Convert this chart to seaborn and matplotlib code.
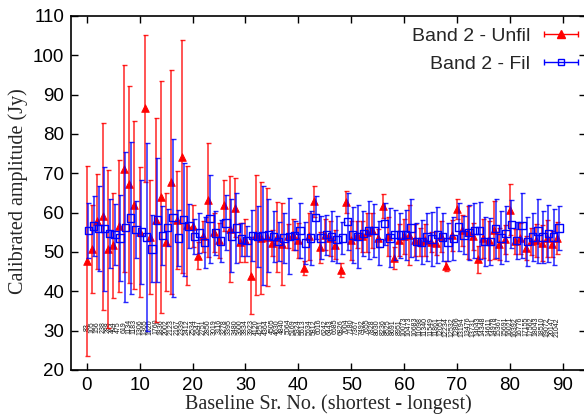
import numpy as np
import pandas as pd
import matplotlib
matplotlib.use("Agg")
import matplotlib.pyplot as plt
import seaborn as sns
from matplotlib.container import ErrorbarContainer
from matplotlib.legend_handler import HandlerErrorbar

# ---------------- data ----------------
baseline_index = list(range(90))

unfil_amp = [47.7, 50.8, 57.8, 59.1, 50.8, 51.7, 56.6, 71.2, 67.2, 61.9,
             55.1, 86.5, 53.8, 58.1, 64.0, 52.5, 67.8, 58.1, 74.2, 56.8,
             56.6, 49.1, 54.0, 63.3, 55.0, 53.0, 61.9, 55.9, 61.3, 52.5,
             53.0, 44.0, 54.3, 53.5, 53.8, 52.3, 53.8, 52.1, 54.0, 54.4,
             53.0, 45.9, 54.0, 62.9, 51.2, 54.4, 53.5, 51.9, 45.5, 62.8,
             53.0, 54.4, 54.0, 55.0, 55.5, 53.6, 61.7, 54.0, 48.5, 53.0,
             54.0, 54.4, 53.0, 52.5, 53.0, 52.5, 52.3, 54.0, 46.4, 54.2,
             61.0, 55.5, 55.0, 54.0, 48.1, 53.5, 53.0, 55.5, 52.0, 53.2,
             60.8, 52.7, 53.5, 51.0, 52.7, 53.0, 52.3, 53.5, 52.0, 53.6]
unfil_err = [24.2, 11.2, 12.0, 23.8, 20.0, 13.3, 16.7, 26.3, 25.0, 21.4,
             16.5, 18.7, 14.6, 25.9, 29.5, 12.5, 28.5, 12.5, 29.6, 15.1,
             5.3, 3.4, 4.0, 14.5, 5.0, 4.5, 6.5, 13.4, 7.4, 5.0,
             5.5, 9.8, 15.2, 14.3, 12.5, 3.4, 9.0, 10.4, 3.0, 4.0,
             4.5, 1.7, 6.0, 4.0, 4.0, 4.0, 4.5, 3.8, 1.8, 2.8,
             5.0, 3.5, 4.0, 5.0, 4.5, 2.3, 3.0, 5.0, 2.8, 4.0,
             4.5, 7.6, 4.0, 3.5, 4.0, 2.5, 3.0, 4.0, 1.3, 4.0,
             2.6, 4.0, 6.7, 3.5, 3.5, 5.0, 5.0, 7.4, 4.0, 3.6,
             6.4, 3.2, 4.0, 3.0, 3.4, 4.2, 4.5, 4.7, 3.3, 4.0]

fil_amp = [55.5, 56.6, 55.9, 55.9, 54.7, 54.5, 53.6, 56.3, 58.6, 55.7,
           55.1, 53.8, 50.8, 58.1, 54.2, 56.2, 58.7, 53.6, 58.2, 56.6,
           54.0, 54.8, 52.4, 58.5, 54.8, 52.8, 57.4, 54.1, 56.1, 53.3,
           52.9, 54.2, 54.0, 54.2, 54.3, 54.0, 52.7, 53.6, 54.0, 54.2,
           55.4, 52.3, 53.6, 58.7, 53.6, 54.4, 54.0, 53.2, 53.6, 57.8,
           54.3, 54.0, 54.7, 55.5, 55.5, 52.3, 57.2, 53.6, 54.4, 54.3,
           54.4, 56.1, 52.7, 52.5, 53.8, 53.3, 54.4, 53.8, 52.5, 53.4,
           56.4, 54.3, 55.0, 55.5, 55.5, 52.7, 52.7, 56.0, 53.6, 54.7,
           57.0, 52.9, 56.7, 52.6, 53.8, 55.3, 53.8, 54.7, 53.8, 56.1]
fil_err = [7.0, 7.7, 10.8, 15.7, 8.7, 7.8, 11.0, 19.0, 19.3, 7.3,
           13.2, 24.0, 8.5, 15.7, 7.4, 4.8, 20.1, 7.1, 14.4, 5.7,
           4.5, 5.0, 6.4, 11.2, 5.6, 5.3, 7.0, 9.3, 8.9, 4.2,
           3.8, 6.5, 7.8, 12.5, 9.3, 6.5, 5.0, 6.4, 9.7, 3.6,
           7.0, 5.4, 6.8, 5.5, 5.5, 5.1, 6.4, 6.0, 4.0, 7.2,
           7.1, 8.0, 5.7, 7.4, 6.8, 5.7, 5.3, 7.5, 6.4, 5.7,
           6.4, 7.4, 4.8, 5.6, 6.1, 6.8, 7.1, 6.2, 4.8, 5.5,
           6.1, 4.9, 7.0, 7.0, 7.2, 6.2, 5.9, 7.5, 6.7, 7.1,
           6.1, 4.8, 8.2, 6.2, 6.0, 8.1, 6.7, 7.3, 7.1, 5.7]

baseline_labels = ["83", "105", "156", "238", "288", "464", "475", "619",
                   "1134", "1183", "1306", "1365", "1520", "1760", "1836", "2002", "2123", "2167",
                   "2339", "2412", "2534", "2647", "2751", "2850", "3019", "3116", "3278", "3395",
                   "3480", "3600", "3834", "3923", "4120", "4251", "4364", "4505", "4630", "4840",
                   "5064", "5169", "5324", "5513", "5634", "5812", "6016", "6242", "6443", "6685",
                   "6826", "7004", "7180", "7367", "7492", "7655", "7828", "8030", "8236", "8525",
                   "8691", "8951",
                   "10073", "10473", "10683", "11098", "11340", "11549", "11861", "12051", "12234", "12532",
                   "12806", "13194", "13476", "13731", "14043", "14348", "14611", "14978", "15367", "15691",
                   "16021", "16392", "16776", "17155", "17562", "18043", "18510", "19072", "20147", "21042"]

series_labels = ["Band 2 - Unfil", "Band 2 - Fil"]
fil_offset = 0.3
label_level = 31.0

df = pd.DataFrame({
    "idx": baseline_index,
    "unfil": unfil_amp, "unfil_err": unfil_err,
    "fil": fil_amp, "fil_err": fil_err,
})
df["idx_fil"] = df["idx"] + fil_offset

# ---------------- figure ----------------
sns.set_style("ticks")
plt.rcParams["font.family"] = ["Liberation Sans", "DejaVu Sans"]

fig = plt.figure(figsize=(5.84, 4.17), dpi=100)
W, H = 584, 417
ax = fig.add_axes([71 / W, (H - 370) / H, (586 - 71) / W, (370 - 16) / H])

red = "#ff0000"
blue = "#0000ff"

ax.errorbar(df["idx"], df["unfil"], yerr=df["unfil_err"], fmt="none",
            ecolor=red, elinewidth=1.1, capsize=1.8, capthick=1.0, alpha=0.85, zorder=2)
sns.scatterplot(data=df, x="idx", y="unfil", ax=ax, marker="^", s=30,
                color=red, edgecolor=red, linewidth=0.6, legend=False, zorder=3)

ax.errorbar(df["idx_fil"], df["fil"], yerr=df["fil_err"], fmt="none",
            ecolor=blue, elinewidth=1.1, capsize=1.8, capthick=1.0, alpha=0.85, zorder=4)
sns.scatterplot(data=df, x="idx_fil", y="fil", ax=ax, marker="s", s=28,
                facecolor="none", edgecolor=blue, linewidth=1.0, legend=False, zorder=5)

for i, lab in zip(baseline_index, baseline_labels):
    ax.text(i, label_level, lab, rotation=90, ha="center", va="center",
            fontsize=5.0, color="#111111", zorder=1)

ax.set_xlim(-3, 94.4)
ax.set_ylim(20, 110)
ax.set_xticks(range(0, 91, 10))
ax.set_yticks(range(20, 111, 10))
ax.tick_params(direction="in", length=5, width=1, top=True, right=True,
               labelsize=13.5, pad=5, colors="black")
for s in ax.spines.values():
    s.set_linewidth(1.2)
    s.set_color("black")

serif = ["Liberation Serif", "DejaVu Serif"]
ax.set_xlabel("Baseline Sr. No. (shortest - longest)", fontsize=14.5, family=serif)
ax.set_ylabel("Calibrated amplitude (Jy)", fontsize=14.5, family=serif)
ax.xaxis.set_label_coords((328 - 71) / (586 - 71), -(394 - 370) / (370 - 16))
ax.yaxis.set_label_coords(-(71 - 28) / (586 - 71), (370 - 191) / (370 - 16))

# legend (gnuplot-like: text then horizontal error-bar sample)
h1 = ax.errorbar([np.nan], [np.nan], xerr=[1], fmt="^", color=red, ms=5.5,
                 elinewidth=1.0, capsize=2.5, label=series_labels[0])
h2 = ax.errorbar([np.nan], [np.nan], xerr=[1], fmt="s", color=blue, ms=5,
                 mfc="none", mec=blue, elinewidth=1.0, capsize=2.5, label=series_labels[1])
leg = fig.legend(handles=[h1, h2], labels=series_labels, loc="upper right",
                 bbox_to_anchor=(578 / W, (H - 27) / H), frameon=False,
                 markerfirst=False, fontsize=14, handlelength=1.75,
                 handletextpad=0.7, labelspacing=0.55, borderpad=0, borderaxespad=0,
                 handler_map={ErrorbarContainer: HandlerErrorbar(xerr_size=0.88)})

fig.savefig("out.png", dpi=100)
